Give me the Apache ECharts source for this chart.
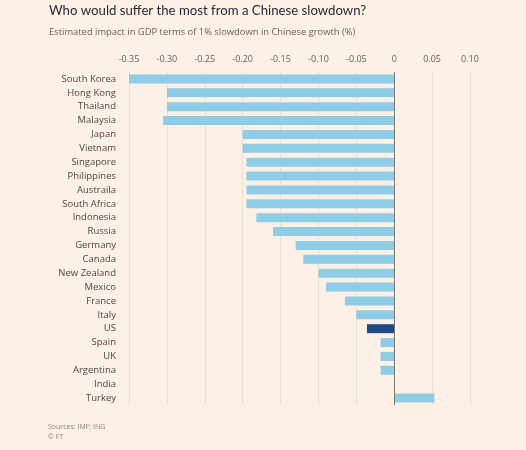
<!DOCTYPE html>
<html>
<head>
<meta charset="utf-8">
<script src="https://cdn.jsdelivr.net/npm/echarts@6/dist/echarts.min.js"></script>
<style>
html,body{margin:0;padding:0;background:#fdf0e6;}
#chart{width:526px;height:450px;}
</style>
</head>
<body>
<div id="chart"></div>
<script>
var countries = ['South Korea','Hong Kong','Thailand','Malaysia','Japan','Vietnam','Singapore','Philippines','Austraila','South Africa','Indonesia','Russia','Germany','Canada','New Zealand','Mexico','France','Italy','US','Spain','UK','Argentina','India','Turkey'];
var impact = [-0.35,-0.30,-0.30,-0.305,-0.20,-0.20,-0.195,-0.195,-0.195,-0.195,-0.182,-0.16,-0.13,-0.12,-0.10,-0.09,-0.065,-0.05,-0.036,-0.018,-0.018,-0.018,0,0.053];
var highlight = 'US';
var tickLabels = {'-0.35':'-0.35','-0.3':'-0.30','-0.25':'-0.25','-0.2':'-0.20','-0.15':'-0.15','-0.1':'-0.10','-0.05':'-0.05','0':'0','0.05':'0.05','0.1':'0.10'};

var chart = echarts.init(document.getElementById('chart'));
var font = 'Open Sans';
chart.setOption({
  backgroundColor: '#fdf0e6',
  title: [
    {text: 'Who would suffer the most from a Chinese slowdown?', left: 49, top: 4, padding: 0,
     textStyle: {fontFamily: 'Lato', fontSize: 13.2, fontWeight: 'normal', color: '#262a33'}},
    {text: 'Estimated impact in GDP terms of 1% slowdown in Chinese growth (%)', left: 49, top: 28, padding: 0,
     textStyle: {fontFamily: font, fontSize: 9.4, fontWeight: 'normal', color: '#66605c'}},
    {text: 'Sources: IMF; ING\n© FT', left: 48, top: 422, padding: 0,
     textStyle: {fontFamily: font, fontSize: 7, fontWeight: 'normal', color: '#8a8580', lineHeight: 10}}
  ],
  grid: {left: 129, right: 56, top: 72, bottom: 45},
  xAxis: {
    type: 'value', position: 'top', min: -0.35, max: 0.1, interval: 0.05,
    axisLine: {show: false}, axisTick: {show: false},
    splitLine: {lineStyle: {color: '#ebddd2', width: 1}},
    axisLabel: {fontFamily: font, fontSize: 9, color: '#66605c', margin: 8,
      formatter: function (v) { var k = String(Math.round(v * 100) / 100); return tickLabels[k] !== undefined ? tickLabels[k] : k; }}
  },
  yAxis: {
    type: 'category', data: countries, inverse: true,
    axisLine: {show: false}, axisTick: {show: false},
    axisLabel: {fontFamily: font, fontSize: 9.5, color: '#4a4744', margin: 13}
  },
  series: [{
    type: 'bar', barWidth: 9,
    data: impact.map(function (v, i) {
      return {value: v, itemStyle: {color: countries[i] === highlight ? '#1f4e85' : '#8fcde6'}};
    }),
    markLine: {
      silent: true, symbol: 'none', label: {show: false},
      lineStyle: {color: '#7d7873', width: 1, type: 'solid'},
      data: [{xAxis: 0}]
    }
  }]
});
</script>
</body>
</html>
